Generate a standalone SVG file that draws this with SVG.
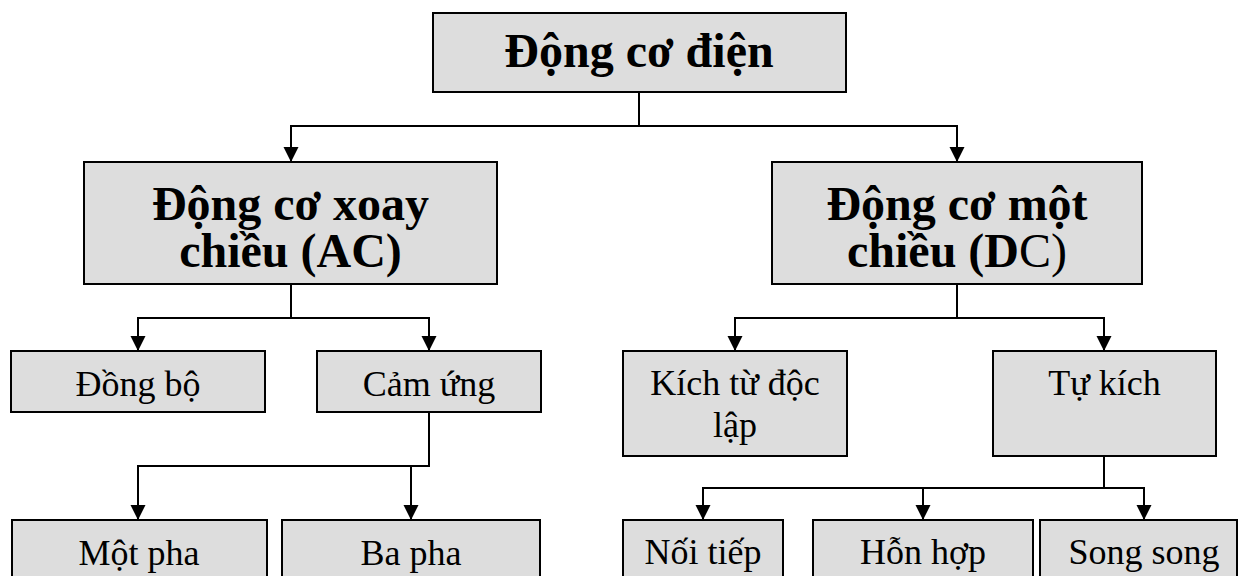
<svg xmlns="http://www.w3.org/2000/svg" width="1239" height="576" viewBox="0 0 1239 576">
<style>
.box{fill:#dddddd;stroke:#000;stroke-width:2}
.t{font-family:"Liberation Serif","Times New Roman",serif;fill:#000;text-anchor:middle}
.big{font-size:48px;font-weight:bold}
.sm{font-size:36px}
.c{fill:none;stroke:#000;stroke-width:2}
</style>
<defs>
<marker id="ah" markerUnits="userSpaceOnUse" markerWidth="16" markerHeight="16" refX="15" refY="7.5" orient="auto">
<path d="M0,0 L15,7.5 L0,15 z" fill="#000"/>
</marker>
</defs>
<rect width="1239" height="576" fill="#fff"/>
<g id="connectors">
<path class="c" d="M639,92 V126"/>
<path class="c" d="M639,126 H291 V162" marker-end="url(#ah)"/>
<path class="c" d="M639,126 H957 V162" marker-end="url(#ah)"/>
<path class="c" d="M291,284 V318"/>
<path class="c" d="M291,318 H138 V351" marker-end="url(#ah)"/>
<path class="c" d="M291,318 H429 V351" marker-end="url(#ah)"/>
<path class="c" d="M429,412 V466 H138 V520" marker-end="url(#ah)"/>
<path class="c" d="M411,466 V520" marker-end="url(#ah)"/>
<path class="c" d="M957,284 V318"/>
<path class="c" d="M957,318 H735 V351" marker-end="url(#ah)"/>
<path class="c" d="M957,318 H1104 V351" marker-end="url(#ah)"/>
<path class="c" d="M1104,456 V488"/>
<path class="c" d="M1104,488 H703 V520" marker-end="url(#ah)"/>
<path class="c" d="M923,488 V520" marker-end="url(#ah)"/>
<path class="c" d="M1104,488 H1144 V520" marker-end="url(#ah)"/>
</g>
<g id="n-root">
<rect class="box" x="433" y="13" width="413" height="79"/>
<text class="t big" x="639" y="67">Động cơ điện</text>
</g>
<g id="n-ac">
<rect class="box" x="84" y="162" width="413" height="122"/>
<text class="t big" x="290.5" y="220">Động cơ xoay</text>
<text class="t big" x="290.5" y="267">chiều (AC)</text>
</g>
<g id="n-dc">
<rect class="box" x="772" y="162" width="370" height="122"/>
<text class="t big" x="957" y="220">Động cơ một</text>
<text class="t big" x="957" y="267">chiều (D<tspan font-weight="normal">C)</tspan></text>
</g>
<g id="n-dongbo">
<rect class="box" x="11" y="351" width="254" height="61"/>
<text class="t sm" x="138" y="396">Đồng bộ</text>
</g>
<g id="n-camung">
<rect class="box" x="317" y="351" width="224" height="61"/>
<text class="t sm" x="429" y="396">Cảm ứng</text>
</g>
<g id="n-kichtu">
<rect class="box" x="623" y="351" width="224" height="105"/>
<text class="t sm" x="735" y="395">Kích từ độc</text>
<text class="t sm" x="735" y="437">lập</text>
</g>
<g id="n-tukich">
<rect class="box" x="993" y="351" width="223" height="105"/>
<text class="t sm" x="1104.5" y="395">Tự kích</text>
</g>
<g id="n-motpha">
<rect class="box" x="12" y="520" width="255" height="80"/>
<text class="t sm" x="139" y="565">Một pha</text>
</g>
<g id="n-bapha">
<rect class="box" x="282" y="520" width="258" height="80"/>
<text class="t sm" x="411" y="565">Ba pha</text>
</g>
<g id="n-noitiep">
<rect class="box" x="623" y="520" width="160" height="80"/>
<text class="t sm" x="703" y="564">Nối tiếp</text>
</g>
<g id="n-honhop">
<rect class="box" x="813" y="520" width="220" height="80"/>
<text class="t sm" x="923" y="564">Hỗn hợp</text>
</g>
<g id="n-songsong">
<rect class="box" x="1040" y="520" width="197" height="80"/>
<text class="t sm" x="1144" y="564">Song song</text>
</g>
</svg>
